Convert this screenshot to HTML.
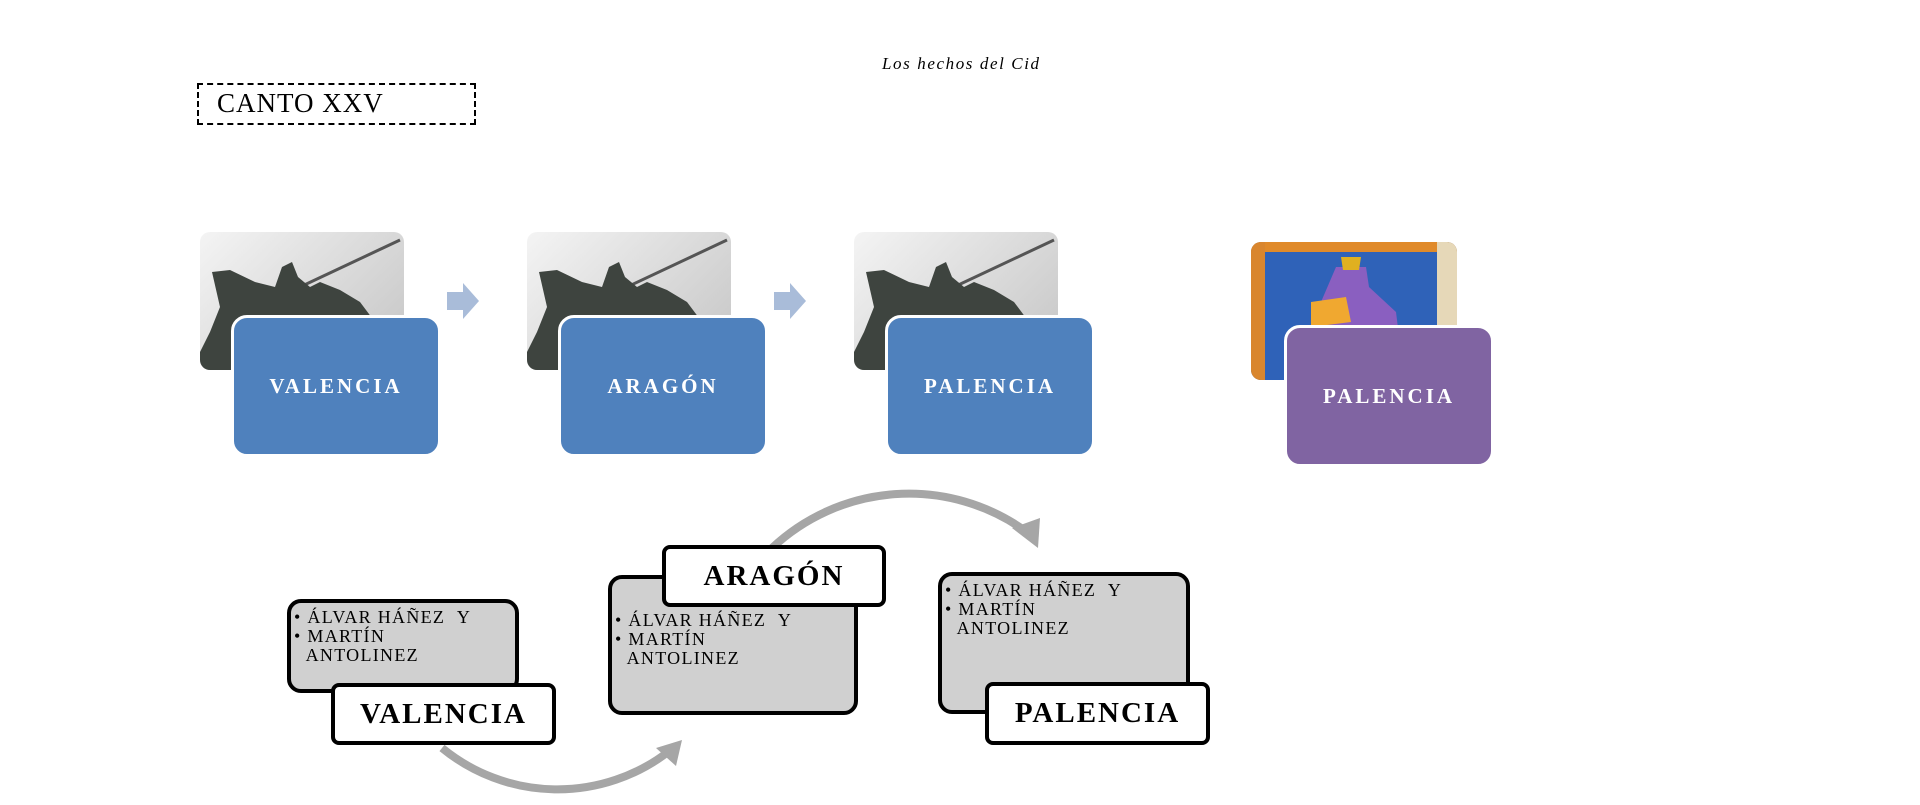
<!DOCTYPE html>
<html><head><meta charset="utf-8">
<style>
body{margin:0;width:1920px;height:805px;background:#fff;position:relative;overflow:hidden;font-family:"Liberation Serif",serif;}
.a{position:absolute;box-sizing:border-box;}
.photo{border-radius:10px;overflow:hidden;background:linear-gradient(135deg,#f4f4f4,#c4c4c4);}
.blue{background:#4f81bd;border:3px solid #fff;border-radius:16px;color:#fff;font-weight:bold;font-size:21px;letter-spacing:3px;display:flex;align-items:center;justify-content:center;}
.gray{background:#d0d0d0;border:4px solid #000;border-radius:14px;font-size:18px;letter-spacing:1.3px;line-height:19px;padding:5px 0 0 3px;}
.lab{background:#fff;border:4px solid #000;border-radius:8px;font-weight:bold;font-size:29px;letter-spacing:2px;display:flex;align-items:center;justify-content:center;}
</style></head><body>
<div class="a" style="left:882px;top:54px;font-style:italic;font-size:17px;letter-spacing:1.6px;">Los hechos del Cid</div>
<div class="a" style="left:197px;top:83px;width:279px;height:42px;border:2px dashed #000;font-size:27px;letter-spacing:1px;padding:3px 0 0 18px;">CANTO XXV</div>

<!-- top row -->
<div class="a photo" style="left:200px;top:232px;width:204px;height:138px;">
<svg width="204" height="138"><line x1="100" y1="55" x2="200" y2="8" stroke="#555" stroke-width="3"/><path d="M12,40 L30,38 L55,50 L75,55 L82,35 L92,30 L98,45 L110,55 L120,50 L140,58 L160,70 L175,90 L150,138 L0,138 L0,120 L10,100 L20,75 Z" fill="#3e443f"/></svg></div>
<div class="a blue" style="left:231px;top:315px;width:210px;height:142px;">VALENCIA</div>
<svg class="a" style="left:447px;top:283px" width="32" height="36"><path d="M0,9 H16 V0 L32,18 L16,36 V27 H0 Z" fill="#a9bcd9"/></svg>

<div class="a photo" style="left:527px;top:232px;width:204px;height:138px;">
<svg width="204" height="138"><line x1="100" y1="55" x2="200" y2="8" stroke="#555" stroke-width="3"/><path d="M12,40 L30,38 L55,50 L75,55 L82,35 L92,30 L98,45 L110,55 L120,50 L140,58 L160,70 L175,90 L150,138 L0,138 L0,120 L10,100 L20,75 Z" fill="#3e443f"/></svg></div>
<div class="a blue" style="left:558px;top:315px;width:210px;height:142px;">ARAGÓN</div>
<svg class="a" style="left:774px;top:283px" width="32" height="36"><path d="M0,9 H16 V0 L32,18 L16,36 V27 H0 Z" fill="#a9bcd9"/></svg>

<div class="a photo" style="left:854px;top:232px;width:204px;height:138px;">
<svg width="204" height="138"><line x1="100" y1="55" x2="200" y2="8" stroke="#555" stroke-width="3"/><path d="M12,40 L30,38 L55,50 L75,55 L82,35 L92,30 L98,45 L110,55 L120,50 L140,58 L160,70 L175,90 L150,138 L0,138 L0,120 L10,100 L20,75 Z" fill="#3e443f"/></svg></div>
<div class="a blue" style="left:885px;top:315px;width:210px;height:142px;">PALENCIA</div>

<div class="a photo" style="left:1251px;top:242px;width:206px;height:138px;background:#2f62b8;">
<svg width="206" height="138"><rect x="0" y="0" width="206" height="10" fill="#e08a2a"/><rect x="0" y="0" width="14" height="138" fill="#d9862e"/><rect x="186" y="0" width="20" height="138" fill="#e6d8b8"/><path d="M85,25 L115,25 L118,45 L145,70 L150,110 L90,120 L60,95 L70,60 Z" fill="#8a5fc0"/><path d="M60,60 L95,55 L100,80 L60,85 Z" fill="#f0a830"/><path d="M90,15 L110,15 L108,28 L92,28 Z" fill="#e0b020"/></svg></div>
<div class="a blue" style="left:1284px;top:325px;width:210px;height:142px;background:#8064a2;">PALENCIA</div>

<!-- arcs -->
<svg class="a" style="left:0;top:0" width="1920" height="805">
<path d="M772,548 A200,200 0 0 1 1024,530" fill="none" stroke="#a6a6a6" stroke-width="8"/>
<path d="M1012,528 L1040,518 L1038,548 Z" fill="#a6a6a6"/>
<path d="M442,748 A182,182 0 0 0 668,752" fill="none" stroke="#a6a6a6" stroke-width="8"/>
<path d="M656,748 L682,740 L676,766 Z" fill="#a6a6a6"/>
</svg>

<!-- bottom boxes -->
<div class="a gray" style="left:287px;top:599px;width:232px;height:94px;">• ÁLVAR HÁÑEZ &nbsp;Y<br>• MARTÍN<br>&nbsp;&nbsp;ANTOLINEZ</div>
<div class="a lab" style="left:331px;top:683px;width:225px;height:62px;">VALENCIA</div>

<div class="a gray" style="left:608px;top:575px;width:250px;height:140px;padding-top:32px;">• ÁLVAR HÁÑEZ &nbsp;Y<br>• MARTÍN<br>&nbsp;&nbsp;ANTOLINEZ</div>
<div class="a lab" style="left:662px;top:545px;width:224px;height:62px;">ARAGÓN</div>

<div class="a gray" style="left:938px;top:572px;width:252px;height:142px;">• ÁLVAR HÁÑEZ &nbsp;Y<br>• MARTÍN<br>&nbsp;&nbsp;ANTOLINEZ</div>
<div class="a lab" style="left:985px;top:682px;width:225px;height:63px;">PALENCIA</div>
</body></html>
